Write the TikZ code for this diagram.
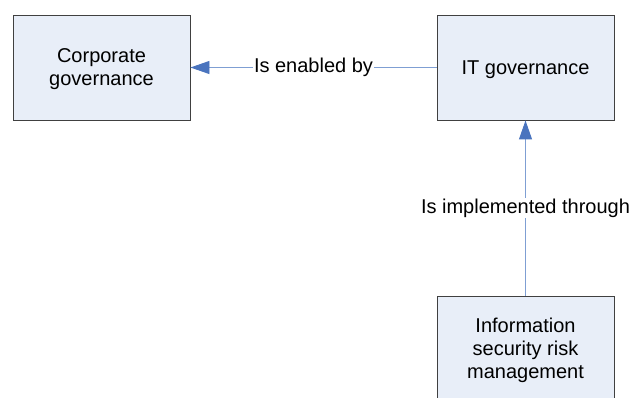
\documentclass[tikz,border=0pt]{standalone}
\usepackage{fontspec}
\setmainfont{Liberation Sans}
\usetikzlibrary{arrows.meta}

\definecolor{boxfill}{HTML}{E8EEF8}
\definecolor{boxline}{HTML}{404040}
\definecolor{linkline}{HTML}{7F9FD3}
\definecolor{tipblue}{HTML}{4A74BE}

\tikzset{
  govbox/.style={draw=boxline, line width=0.9pt, fill=boxfill, minimum width=177pt,
    minimum height=105pt, align=center, inner sep=0pt, text depth=0pt,
    font=\fontsize{20}{23}\selectfont},
  link/.style={draw=linkline, line width=0.9pt,
    -{Triangle[length=19pt,width=13pt,color=tipblue,fill=tipblue]}},
  linklabel/.style={fill=white, inner sep=1pt, font=\fontsize{20}{23}\selectfont}
}

\begin{document}
\begin{tikzpicture}[x=1pt,y=-1pt]
            \useasboundingbox (0,0) rectangle (629,398);
            \node[govbox] (corporate) at (101.5,67.5) {Corporate\\governance};
            \node[govbox] (itgov) at (525.5,67.5) {IT governance};
            \node[govbox] (infosec) at (525.5,348.5) {Information\\security risk\\management};
            \draw[link] (itgov.west) -- node[linklabel]{Is enabled by} (corporate.east);
            \draw[link] (infosec.north) -- node[linklabel]{Is implemented through} (itgov.south);
        \end{tikzpicture}
\end{document}
